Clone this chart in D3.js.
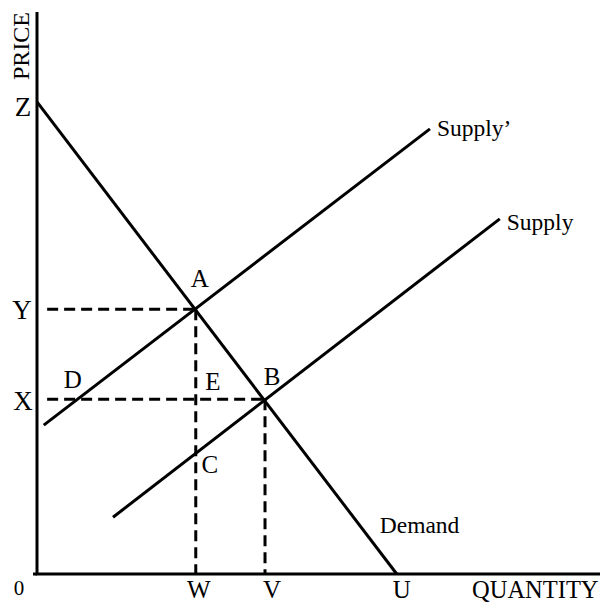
<!DOCTYPE html>
<html><head><meta charset="utf-8">
<script src="https://cdn.jsdelivr.net/npm/d3@7"></script>
<style>body{margin:0;background:#fff}svg{display:block}</style>
</head><body>
<svg id="c" width="600" height="605"></svg>
<script>
// Data (arbitrary units: quantity 0..100, price 0..100)
const demand = [[0, 84.0], [63.9, 0]];
const supplyPrime = [[1.2, 26.5], [69.8, 79.2]];
const supply = [[13.5, 10.1], [82.2, 63.2]];
const pointA = [28.2, 47.1];
const pointB = [40.5, 31.1];
const pointC = [28.2, 21.7];
const pointD = [7.4, 31.1];
const dashStart = 1.8;
const curveLabels = ["Demand", "Supply\u2019", "Supply"];
const pointLabels = ["A", "B", "C", "D", "E"];
const axisLetters = ["Z", "Y", "X", "W", "V", "U"];
const axisTitles = ["PRICE", "QUANTITY", "0"];

const svg = d3.select("#c");
const x = d3.scaleLinear().domain([0, 100]).range([37, 600]);
const y = d3.scaleLinear().domain([0, 100]).range([574, 12]);
const font = "'Liberation Serif','Times New Roman',serif";
const line = d3.line().x(d => x(d[0])).y(d => y(d[1]));

// axes
svg.append("path").attr("d", line([[0, 100], [0, 0], [100, 0]]))
  .attr("fill", "none").attr("stroke", "#000").attr("stroke-width", 3);
svg.append("line").attr("x1", x(0) - 4).attr("x2", x(0)).attr("y1", y(0)).attr("y2", y(0))
  .attr("stroke", "#000").attr("stroke-width", 3);

// dashed guides
const dashes = [
  [[dashStart, pointA[1]], pointA],
  [[dashStart, pointB[1]], pointB],
  [pointA, [pointA[0], 0]],
  [pointB, [pointB[0], 0]]
];
svg.selectAll("path.dash").data(dashes).join("path").attr("class", "dash")
  .attr("d", line).attr("fill", "none").attr("stroke", "#000")
  .attr("stroke-width", 3).attr("stroke-dasharray", "11,6");

// curves
[demand, supplyPrime, supply].forEach(c => {
  svg.append("path").attr("d", line(c)).attr("fill", "none")
    .attr("stroke", "#000").attr("stroke-width", 3).attr("stroke-linecap", "butt");
});

function txt(t, px, py, size, anchor) {
  return svg.append("text").attr("x", px).attr("y", py).text(t)
    .attr("font-family", font).attr("font-size", size)
    .attr("text-anchor", anchor || "middle").attr("fill", "#000");
}

// curve labels
txt(curveLabels[0], x(demand[1][0]) - 17, y(0) - 41, 23.5, "start");
txt(curveLabels[1], x(supplyPrime[1][0]) + 7, y(supplyPrime[1][1]) + 7, 23.5, "start");
txt(curveLabels[2], x(supply[1][0]) + 7, y(supply[1][1]) + 11, 23.5, "start");

// point labels
txt(pointLabels[0], x(pointA[0]) + 4, y(pointA[1]) - 22, 25);
txt(pointLabels[1], x(pointB[0]) + 7, y(pointB[1]) - 14, 25);
txt(pointLabels[2], x(pointC[0]) + 14, y(pointC[1]) + 21, 25);
txt(pointLabels[3], x(pointD[0]) - 6, y(pointD[1]) - 11, 25);
txt(pointLabels[4], x(pointA[0]) + 17, y(pointB[1]) - 9, 25);

// axis letters
txt(axisLetters[0], 23, y(demand[0][1]) + 14, 27);
txt(axisLetters[1], 22, y(pointA[1]) + 10, 27);
txt(axisLetters[2], 23, y(pointB[1]) + 11, 27);
txt(axisLetters[3], x(pointA[0]) + 3, 598, 25);
txt(axisLetters[4], x(pointB[0]) + 7, 598, 25);
txt(axisLetters[5], x(demand[1][0]) + 5, 598, 25);

// axis titles
svg.append("text").text(axisTitles[0]).attr("transform", "translate(29,12) rotate(-90)")
  .attr("text-anchor", "end").attr("font-family", font).attr("font-size", 24);
txt(axisTitles[1], 472, 598, 24.5, "start");
txt(axisTitles[2], 19, 595, 21);
</script>
</body></html>
